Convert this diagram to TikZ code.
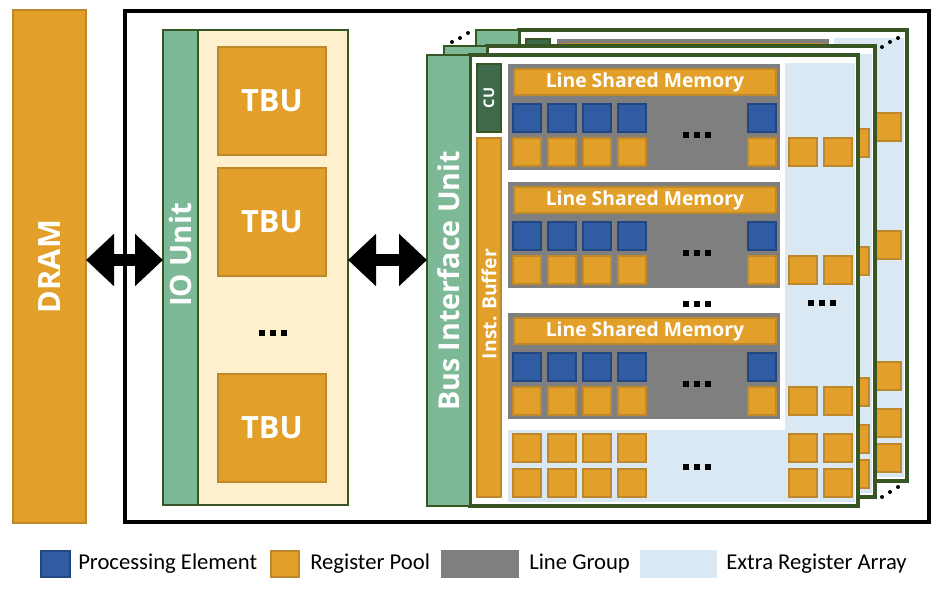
\documentclass[tikz,border=0pt]{standalone}
\usepackage{fontspec}
\setmainfont{Open Sans}
\newfontfamily\legfont{Carlito}
\usetikzlibrary{fit,arrows.meta}
\definecolor{orF}{HTML}{E2A02A}
\definecolor{orD}{HTML}{BE882C}
\definecolor{peF}{HTML}{2F5CA3}
\definecolor{peD}{HTML}{224682}
\definecolor{grF}{HTML}{7F7F7F}
\definecolor{lbF}{HTML}{DAE8F4}
\definecolor{gnF}{HTML}{7DB997}
\definecolor{gnD}{HTML}{375623}
\definecolor{cuF}{HTML}{3E6A4B}
\definecolor{crF}{HTML}{FFF0CD}
\tikzset{
  bx/.style={inner sep=0pt, outer sep=0pt},
  orbox/.style={fill=orF, draw=orD, line width=1.8pt},
  pebox/.style={fill=peF, draw=peD, line width=1.8pt},
  cubox/.style={fill=cuF, draw=gnD, line width=1.8pt},
  greenbox/.style={bx, fill=gnF, draw=gnD, line width=2pt},
  planebox/.style={bx, fill=white, draw=gnD, line width=2.3pt},
  wtext/.style={text=white, inner sep=0pt, font=\bfseries},
  bigarrow/.style={line width=8.5pt, {Triangle[length=21pt,width=38pt]}-{Triangle[length=21pt,width=38pt]}},
  legtext/.style={anchor=west, inner sep=0pt, font=\legfont\fontsize{17}{17}\selectfont},
}
\newcommand\ib[5]{\draw[#1] ({#2+1.2},{#3+1.2}) rectangle ({#4-1.2},{#5-1.2});}
\newcommand\sqdots[2]{\foreach \dx in {-11,0,11}{\fill[black] ({#1+\dx-2.7},{#2-2.7}) rectangle ({#1+\dx+2.7},{#2+2.7});}}
% #1 = 1 for the front plane (texts and dots shown)
\newcommand\drawplane[1]{%
  \node[planebox, fit={(470,55) (858,506)}] (plane) {};
  \node[greenbox, fit={(427,55) (470,506)}] (biu) {};
  \ifnum#1=1
    \node[wtext, rotate=90, font=\fontsize{21.5}{21.5}\selectfont\bfseries] (biutxt) at (449,281) {Bus Interface Unit};
  \fi
  \fill[lbF] (785,63) rectangle (855,502);
  \fill[lbF] (508,430) rectangle (855,502);
  \ib{cubox}{476}{63}{502}{133}
  \ib{orbox}{476}{137}{502}{498}
  \ifnum#1=1
    \node[wtext, rotate=90, font=\fontsize{11}{11}\selectfont\bfseries] (cutxt) at (489,98) {CU};
    \node[wtext, rotate=90, font=\fontsize{14.5}{14.5}\selectfont\bfseries] (ibtxt) at (489,304) {Inst. Buffer};
  \fi
  \foreach \y/\n in {64/1,182/2,313/3}{
    \fill[grF] (508,\y) rectangle (780,\y+106);
    \ib{orbox}{513}{\y+4}{777}{\y+32}
    \ifnum#1=1
      \node[wtext, font=\fontsize{14.5}{14.5}\selectfont\bfseries] (lsm\n) at (645,\y+18) {Line Shared Memory};
      \sqdots{697}{\y+71}
    \fi
    \foreach \x in {512,547,582,617,747}{
      \ib{pebox}{\x}{\y+39}{\x+30}{\y+69}
      \ib{orbox}{\x}{\y+73}{\x+30}{\y+103}
    }
    \foreach \x in {788,823}{\ib{orbox}{\x}{\y+73}{\x+30}{\y+103}}
  }
  \foreach \y in {433,468}{\foreach \x in {512,547,582,617,788,823}{\ib{orbox}{\x}{\y}{\x+30}{\y+30}}}
  \ifnum#1=1
    \sqdots{697}{304}
    \sqdots{822}{303}
    \sqdots{697}{467}
  \fi
}
\begin{document}
\begin{tikzpicture}[x=0.75pt, y=-0.75pt]
\useasboundingbox (0,0) rectangle (947,598);
% DRAM
\node[bx, fill=orF, draw=orD, line width=1.5pt, fit={(13,10) (86,523)}] (dram) {};
\node[wtext, rotate=90, font=\fontsize{23}{23}\selectfont\bfseries] (dramtxt) at (dram.center) {DRAM};
% chip outline
\node[bx, draw=black, line width=3pt, fit={(124.5,11.5) (929,522)}] (chip) {};
% IO unit and TBUs
\node[bx, fill=crF, draw=gnD, line width=2pt, fit={(198,30) (348,505)}] (tbuc) {};
\node[greenbox, fit={(163,30) (198,505)}] (io) {};
\node[wtext, rotate=90, font=\fontsize{22}{22}\selectfont\bfseries] (iotxt) at (180.5,255) {IO Unit};
\foreach \y/\n in {46/1,167/2,373/3}{
  \ib{orbox}{217}{\y}{327}{\y+110}
  \node[wtext, font=\fontsize{23}{23}\selectfont\bfseries] (tbu\n) at (272,\y+55) {TBU};
}
\sqdots{273}{333}
% planes (back to front)
\begin{scope}[shift={(49,-25)}, name prefix=p3-]\drawplane{0}\end{scope}
\begin{scope}[shift={(17,-9)}, name prefix=p2-]\drawplane{0}\end{scope}
\begin{scope}[name prefix=p1-]\drawplane{1}\end{scope}
% stacking dots
\foreach \px/\py in {452/42,460/38,468/33,882/47,890/42,898/38,882/497,890/492,898/487}{
  \fill[black] (\px,\py) circle[radius=1.5pt];
}
% arrows
\coordinate (ay) at (0,260);
\draw[bigarrow] (dram.east |- ay) -- (io.west |- ay);
\draw[bigarrow] (tbuc.east |- ay) -- (p1-biu.west |- ay);
% legend
\ib{pebox}{40}{550}{71}{578}
\node[legtext] (lg1) at (78,564) {Processing Element};
\ib{orbox}{270}{550}{300}{578}
\node[legtext] (lg2) at (310,564) {Register Pool};
\fill[grF] (441,550) rectangle (519,578);
\node[legtext] (lg3) at (529,564) {Line Group};
\fill[lbF] (640,550) rectangle (717,578);
\node[legtext] (lg4) at (726,564) {Extra Register Array};
\end{tikzpicture}
\end{document}
